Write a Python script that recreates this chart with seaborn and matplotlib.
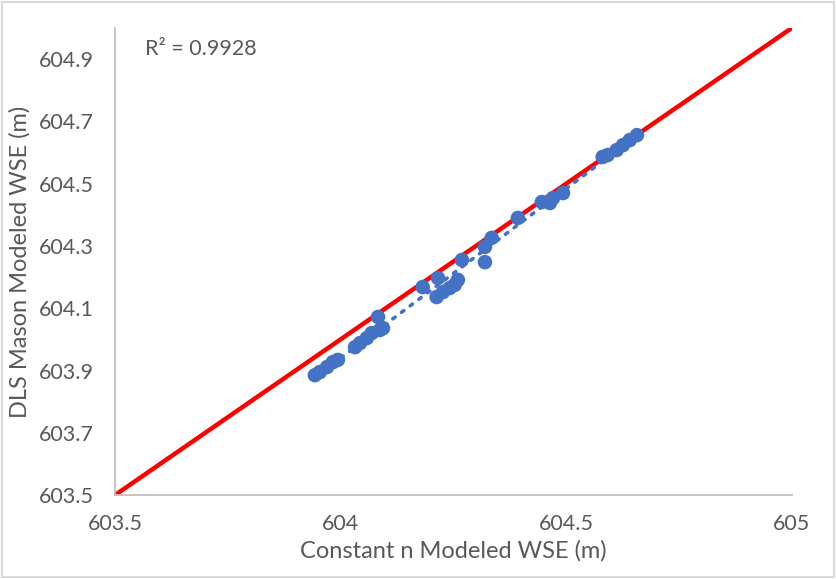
import numpy as np
import pandas as pd
import matplotlib
matplotlib.use("Agg")
import matplotlib.pyplot as plt
import seaborn as sns
from matplotlib.patches import Rectangle
from matplotlib.ticker import FuncFormatter

constant_n = [603.943, 603.954, 603.970, 603.983, 603.994, 604.032, 604.043, 604.058,
              604.069, 604.087, 604.083, 604.094, 604.182, 604.216, 604.213, 604.227,
              604.242, 604.253, 604.260, 604.269, 604.320, 604.320, 604.335, 604.393,
              604.446, 604.464, 604.471, 604.493, 604.581, 604.592, 604.612, 604.626,
              604.641, 604.657]
dls_mason = [603.885,603.895,603.911,603.927,603.934,603.975,603.988,604.004,
             604.020,604.030,604.072,604.036,604.168, 604.197, 604.136, 604.152,
             604.165, 604.175, 604.191, 604.255, 604.248, 604.297, 604.326, 604.390,
             604.441, 604.438, 604.454, 604.470, 604.586, 604.592, 604.608, 604.624,
             604.640, 604.656]
one_to_one = [603.5, 605.0]
x_ticks = [603.5, 604.0, 604.5, 605.0]
y_ticks = [603.5, 603.7, 603.9, 604.1, 604.3, 604.5, 604.7, 604.9]
r2_text = "R² = 0.9928"

df = pd.DataFrame({"x": constant_n, "y": dls_mason})
line_df = pd.DataFrame({"x": one_to_one, "y": one_to_one})

sns.set_style("white")
plt.rcParams["font.family"] = ["Lato", "DejaVu Sans"]

fig = plt.figure(figsize=(8.36, 5.79), dpi=100)
ax = fig.add_axes([0.1376, 0.145, 0.8094, 0.8066])

sns.lineplot(data=line_df, x="x", y="y", color="#FF0000", linewidth=3.2, ax=ax, zorder=2)
sns.regplot(data=df, x="x", y="y", scatter=False, ci=None, ax=ax, truncate=True,
            line_kws=dict(color="#4472C4", linewidth=2.6, linestyle=(0, (0.8, 2.2)),
                          dash_capstyle="round", zorder=3))
sns.scatterplot(data=df, x="x", y="y", color="#4472C4", s=110, edgecolor="none",
                ax=ax, zorder=4)

ax.set_xlim(603.5, 605.0)
ax.set_ylim(603.5, 605.0)
ax.set_xticks(x_ticks)
ax.set_yticks(y_ticks)
ax.xaxis.set_major_formatter(FuncFormatter(lambda v, p: f"{v:g}"))
ax.yaxis.set_major_formatter(FuncFormatter(lambda v, p: f"{v:.1f}"))
ax.tick_params(axis="both", length=0, labelsize=15.5, labelcolor="#595959")
ax.tick_params(axis="y", pad=15)
ax.tick_params(axis="x", pad=14)
ax.set_xlabel("Constant n Modeled WSE (m)", fontsize=17, color="#595959", labelpad=4)
ax.set_ylabel("DLS Mason Modeled WSE (m)", fontsize=17, color="#595959", labelpad=6)
for side in ["top", "right"]:
    ax.spines[side].set_visible(False)
for side in ["left", "bottom"]:
    ax.spines[side].set_color("#BFBFBF")
    ax.spines[side].set_linewidth(1.3)

ax.text(0.045, 0.955, r2_text, transform=ax.transAxes, fontsize=15.5,
        color="#595959", va="center", ha="left")

fig.patches.append(Rectangle((0.002, 0.003), 0.996, 0.994, transform=fig.transFigure,
                             fill=False, edgecolor="#D9D9D9", linewidth=1.5))

fig.savefig("out.png", dpi=100)
